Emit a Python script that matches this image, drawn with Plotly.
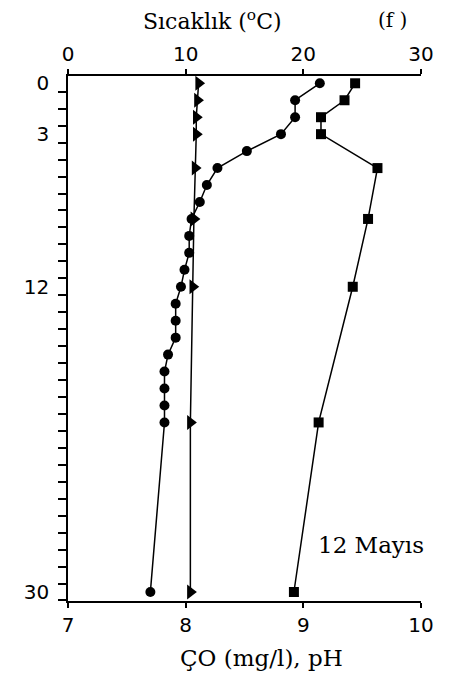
import plotly.graph_objects as go

# Temperature profile (top axis, °C)
depth_temp = [0, 1, 2, 3, 4, 5, 6, 7, 8, 9, 10, 11, 12, 13, 14, 15, 16, 17, 18, 19, 20, 30]
temperature = [21.4, 19.3, 19.3, 18.1, 15.2, 12.7, 11.8, 11.2, 10.5, 10.3, 10.3, 9.9, 9.6,
               9.15, 9.15, 9.15, 8.5, 8.2, 8.2, 8.2, 8.2, 7.0]

# Dissolved oxygen (bottom axis, mg/l)
depth_do = [0, 1, 2, 3, 5, 8, 12, 20, 30]
dissolved_oxygen = [9.44, 9.35, 9.15, 9.15, 9.63, 9.55, 9.42, 9.13, 8.92]

# pH (bottom axis)
depth_ph = [0, 1, 2, 3, 5, 8, 12, 20, 30]
ph = [8.11, 8.10, 8.09, 8.09, 8.08, 8.07, 8.06, 8.04, 8.04]

bottom_ticks = [7, 8, 9, 10]
top_ticks = [0, 10, 20, 30]
depth_ticks = [0, 3, 12, 30]
depth_minor = [i + 0.5 for i in range(0, 31)]

sans = "DejaVu Sans"
serif = "DejaVu Serif"

fig = go.Figure()
fig.add_trace(go.Scatter(x=ph, y=depth_ph, mode="lines+markers", xaxis="x", yaxis="y",
                         line=dict(color="black", width=1.5),
                         marker=dict(symbol="triangle-right", size=13, color="black"),
                         name="pH", showlegend=False))
fig.add_trace(go.Scatter(x=dissolved_oxygen, y=depth_do, mode="lines+markers", xaxis="x", yaxis="y",
                         line=dict(color="black", width=1.5),
                         marker=dict(symbol="square", size=10, color="black"),
                         name="ÇO", showlegend=False))
fig.add_trace(go.Scatter(x=temperature, y=depth_temp, mode="lines+markers", xaxis="x2", yaxis="y",
                         line=dict(color="black", width=1.5),
                         marker=dict(symbol="circle", size=10, color="black"),
                         name="Sıcaklık", showlegend=False))

axis_common = dict(showline=True, linecolor="black", linewidth=1.5, showgrid=False,
                   zeroline=False, ticks="outside", ticklen=5, tickwidth=1.5, tickcolor="black",
                   automargin=False, ticklabelstandoff=0,
                   tickfont=dict(family=sans, size=20, color="black"))

fig.update_layout(
    width=452, height=675,
    margin=dict(l=68, r=31, t=76, b=74),
    paper_bgcolor="white", plot_bgcolor="white",
    xaxis=dict(range=[7, 10], tickvals=bottom_ticks, side="bottom", anchor="y", **axis_common),
    xaxis2=dict(range=[0, 30], tickvals=top_ticks, side="top", overlaying="x", anchor="y",
                **axis_common),
    yaxis=dict(range=[30.53, -0.43], tickvals=depth_ticks, showline=True, linecolor="black",
               linewidth=1.5, showgrid=False, zeroline=False, ticks="", ticklabelstandoff=13,
               automargin=False,
               tickfont=dict(family=sans, size=20, color="black"),
               minor=dict(tickvals=depth_minor, ticks="outside", ticklen=8, tickwidth=1.5,
                          tickcolor="black", showgrid=False)),
    annotations=[
        dict(text="Sıcaklık (<sup>o</sup>C)", xref="paper", yref="paper", x=0.408, y=1.1067,
             xanchor="center", yanchor="middle", showarrow=False,
             font=dict(family=serif, size=22, color="black")),
        dict(text="ÇO (mg/l), pH", xref="paper", yref="paper", x=0.547, y=-0.1086,
             xanchor="center", yanchor="middle", showarrow=False,
             font=dict(family=serif, size=23, color="black")),
        dict(text="(f )", xref="paper", yref="paper", x=0.918, y=1.107, showarrow=False,
             xanchor="center", yanchor="middle",
             font=dict(family=serif, size=20, color="black")),
        dict(text="12 Mayıs", xref="x", yref="y", x=9.575, y=27.2, showarrow=False,
             xanchor="center", yanchor="middle",
             font=dict(family=serif, size=23, color="black")),
    ],
)

fig.write_html("out.html", config={"displayModeBar": False},
               post_script="document.body.style.margin='0';")
